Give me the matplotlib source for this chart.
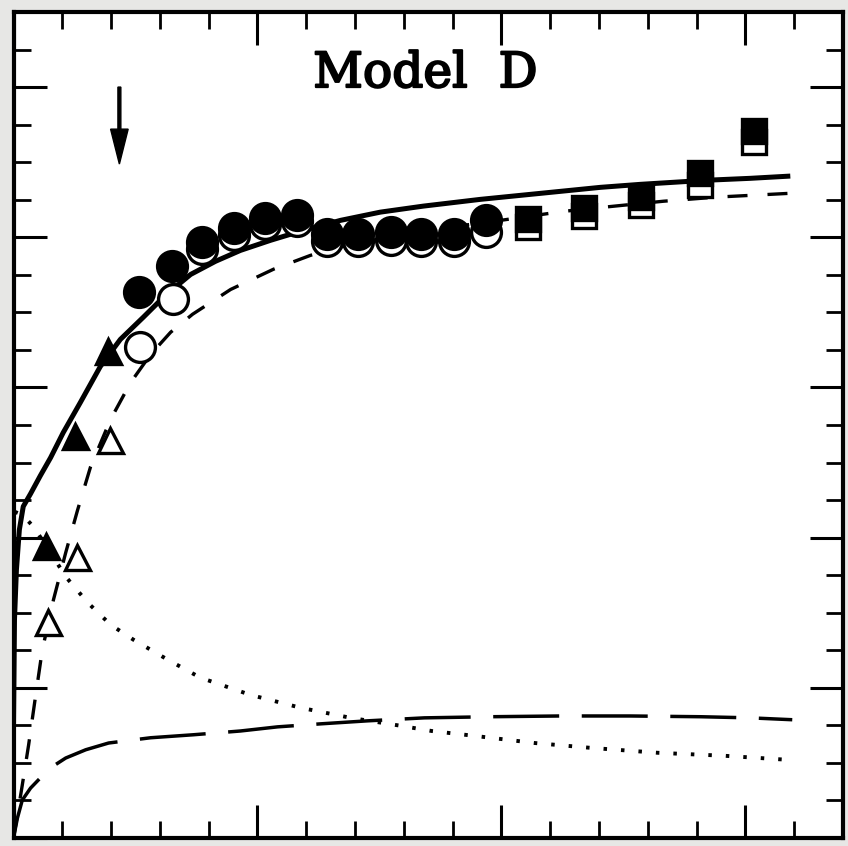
import matplotlib
matplotlib.use("Agg")
import matplotlib.pyplot as plt
import matplotlib.patheffects as pe
from matplotlib.ticker import MultipleLocator

# radius (kpc) and circular velocity (km/s)
r_fill_circ = [2.58, 3.24, 3.87, 4.51, 5.16, 5.82, 6.43, 7.07, 7.73, 8.36, 9.02, 9.69]
v_fill_circ = [145.3, 152.3, 158.7, 162.4, 165.1, 165.9, 160.8, 160.8, 161.3, 160.8, 160.8, 164.5]
r_open_circ = [2.60, 3.26, 3.87, 4.51, 5.16, 5.82, 6.43, 7.07, 7.73, 8.36, 9.02, 9.69]
v_open_circ = [130.9, 143.5, 156.8, 160.5, 163.5, 164.3, 158.9, 158.9, 159.2, 158.9, 158.9, 161.3]

r_fill_tri = [0.66, 1.27, 1.93]
v_fill_tri = [77.9, 107.2, 129.6]
r_open_tri = [0.70, 1.31, 1.97]
v_open_tri = [57.6, 74.9, 106.1]

r_fill_sq = [10.55, 11.70, 12.87, 14.06, 15.18]
v_fill_sq = [164.8, 167.7, 170.7, 177.1, 188.3]
r_open_sq = [10.55, 11.70, 12.87, 14.06, 15.18]
v_open_sq = [162.7, 165.6, 168.5, 173.9, 185.3]

# model curves
r_total = [0.0, 0.02, 0.06, 0.12, 0.20, 0.35, 0.55, 0.76, 1.02, 1.37, 1.78, 2.19,
           2.66, 3.11, 3.63, 4.14, 4.65, 5.27, 5.88, 6.70, 7.52, 8.40, 9.57,
           10.80, 12.03, 12.85, 14.22, 15.10, 15.92]
v_total = [30.0, 58.1, 71.5, 82.1, 88.3, 91.7, 96.5, 101.3, 108.0, 116.0, 125.6, 132.8,
           138.7, 144.5, 150.1, 153.6, 156.5, 159.2, 161.6, 164.5, 166.7, 168.3, 170.1,
           171.7, 173.3, 174.1, 175.2, 175.7, 176.3]

r_model = [0.0, 0.08, 0.18, 0.31, 0.45, 0.59, 0.82, 1.07, 1.31, 1.58, 1.99, 2.40,
           2.81, 3.22, 3.67, 4.45, 5.33, 6.09, 6.91, 7.93, 8.95, 9.98, 11.27,
           12.32, 13.32, 14.41, 15.16, 15.90]
v_model = [0.0, 6.1, 14.1, 24.8, 37.6, 50.1, 63.5, 76.0, 87.2, 98.9, 111.5, 121.3,
           128.8, 134.7, 139.5, 146.1, 151.5, 155.2, 158.1, 160.5, 162.7, 164.5, 166.9,
           168.3, 169.6, 170.7, 171.2, 171.7]

r_disk = [0.02, 0.18, 0.41, 0.76, 1.07, 1.52, 1.99, 2.46, 3.16, 3.83, 4.86, 5.88,
          6.91, 7.93, 8.57, 9.45, 10.68, 11.84, 13.20, 14.57, 15.90]
v_disk = [86.9, 86.1, 82.9, 76.0, 69.6, 62.7, 56.8, 52.8, 47.5, 42.7, 38.1, 34.7,
          32.0, 29.9, 28.5, 27.2, 25.3, 24.0, 22.7, 21.9, 20.8]

r_halo = [0.0, 0.08, 0.18, 0.35, 0.55, 0.76, 1.07, 1.48, 1.95, 2.81, 3.69, 4.65,
          5.41, 6.29, 7.25, 8.42, 9.77, 11.21, 12.64, 14.08, 15.10, 15.96]
v_halo = [0.0, 5.3, 10.1, 13.3, 16.0, 18.7, 21.3, 23.5, 25.3, 26.7, 27.5, 28.5,
          29.6, 30.4, 31.2, 32.0, 32.3, 32.5, 32.5, 32.3, 32.0, 31.5]

arrow_r = 2.17
arrow_top, arrow_tip = 200.0, 179.5

fig = plt.figure(figsize=(8.48, 8.46), dpi=100, facecolor="#e7e7e5")
ax = fig.add_axes([13.5 / 848, 8 / 846, 829.5 / 848, 826 / 846])
ax.set_facecolor("white")
ax.set_xlim(0, 17)
ax.set_ylim(0, 220)

ax.plot(r_halo, v_halo, color="black", lw=2.5, dashes=(19, 6.5))
ax.plot(r_disk, v_disk, color="black", lw=2.8, dashes=(0.9, 3.6))
ax.plot(r_model, v_model, color="black", lw=2.4, dashes=(6, 6))
ax.plot(r_total, v_total, color="black", lw=3.6, solid_capstyle="butt")

open_kw = dict(ls="none", mfc="white", mec="black", mew=2.4)
fill_kw = dict(ls="none", mfc="black", mec="black", mew=2.4)
ax.plot(r_open_tri, v_open_tri, "^", ms=18, **open_kw)
ax.plot(r_fill_tri, v_fill_tri, "^", ms=18, **fill_kw)
ax.plot(r_open_circ, v_open_circ, "o", ms=21.5, **open_kw)
ax.plot(r_fill_circ, v_fill_circ, "o", ms=21.5, **fill_kw)
ax.plot(r_open_sq, v_open_sq, "s", ms=17, **open_kw)
ax.plot(r_fill_sq, v_fill_sq, "s", ms=17, **fill_kw)

ax.arrow(arrow_r, arrow_top, 0, arrow_tip - arrow_top, width=0.06,
         head_width=0.36, head_length=9.3, length_includes_head=True,
         color="black")

ax.text(8.44, 200, "Model  D", ha="center", va="baseline",
        fontsize=35, family="DejaVu Serif", color="black",
        path_effects=[pe.withStroke(linewidth=1.5, foreground="black")])

ax.xaxis.set_major_locator(MultipleLocator(5))
ax.xaxis.set_minor_locator(MultipleLocator(1))
ax.yaxis.set_major_locator(MultipleLocator(40))
ax.yaxis.set_minor_locator(MultipleLocator(10))
ax.tick_params(which="both", direction="in", top=True, right=True,
               labelbottom=False, labelleft=False, color="black")
ax.tick_params(which="major", length=24, width=2.2)
ax.tick_params(which="minor", length=12, width=2.0)
for s in ax.spines.values():
    s.set_linewidth(3.0)

fig.savefig("out.png", dpi=100, facecolor=fig.get_facecolor())
